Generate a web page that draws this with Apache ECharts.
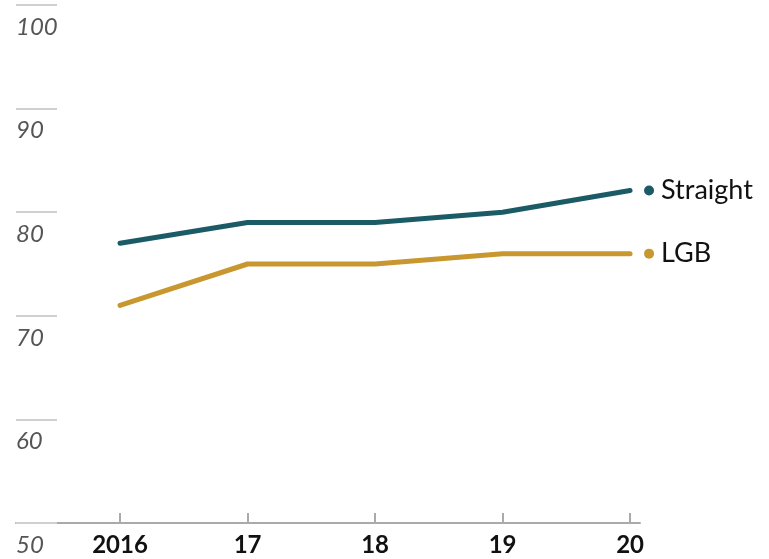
<!DOCTYPE html>
<html>
<head>
<meta charset="utf-8">
<script src="https://cdn.jsdelivr.net/npm/echarts@6/dist/echarts.min.js"></script>
<style>
html,body{margin:0;padding:0;background:#fff;}
#chart{width:769px;height:559px;}
</style>
</head>
<body>
<div id="chart"></div>
<script>
var years = [2016, 2017, 2018, 2019, 2020];
var yearLabels = ['2016', '17', '18', '19', '20'];
var straight = [77.0, 79.0, 79.0, 80.0, 82.1];
var lgb = [71.0, 75.0, 75.0, 76.0, 76.0];
var yTicks = [50, 60, 70, 80, 90, 100];
var seriesNames = ['Straight', 'LGB'];

var FONT = 'Lato';
var colors = ['#1b5b66', '#c9972f'];

function pairs(vals){ return years.map(function(y,i){ return [y, vals[i]]; }); }

function lineSeries(name, vals, color){
  return {
    type: 'line', name: name, data: pairs(vals),
    symbol: 'none', silent: true,
    lineStyle: {color: color, width: 5, cap: 'round'},
    endLabel: {
      show: true, distance: 14,
      formatter: '{d|}{t|' + name + '}',
      rich: {
        d: {width: 10, height: 10, borderRadius: 5, backgroundColor: color},
        t: {fontFamily: FONT, fontSize: 27, color: '#111', padding: [0,0,0,7]}
      }
    }
  };
}

var chart = echarts.init(document.getElementById('chart'));
chart.setOption({
  animation: false,
  grid: {left: 16, right: 129, top: 5, bottom: 36},
  xAxis: {
    type: 'value', min: 2015.184, max: 2020.078,
    splitLine: {show: false},
    axisLine: {show: true, lineStyle: {color: '#aaa', width: 2}},
    axisTick: {show: true, inside: true, length: 10, customValues: years, lineStyle: {color: '#aaa', width: 2}},
    axisLabel: {
      customValues: years, margin: 10,
      fontFamily: FONT, fontWeight: 'bold', fontSize: 24, color: '#111',
      formatter: function(v){ var i = years.indexOf(Math.round(v)); return i >= 0 ? yearLabels[i] : ''; }
    }
  },
  yAxis: {
    type: 'value', min: 50, max: 100, interval: 10,
    splitLine: {show: false},
    axisLine: {show: false},
    axisTick: {show: true, inside: true, length: 41, lineStyle: {color: '#d0d0d0', width: 2}},
    axisLabel: {
      inside: true, margin: 0, align: 'left', verticalAlign: 'top', padding: [10,0,0,0],
      fontFamily: FONT, fontStyle: 'italic', fontSize: 24, color: '#555',
      formatter: function(v){ return yTicks.indexOf(v) >= 0 ? String(v) : ''; }
    }
  },
  series: [
    lineSeries(seriesNames[0], straight, colors[0]),
    lineSeries(seriesNames[1], lgb, colors[1])
  ]
});
</script>
</body>
</html>
